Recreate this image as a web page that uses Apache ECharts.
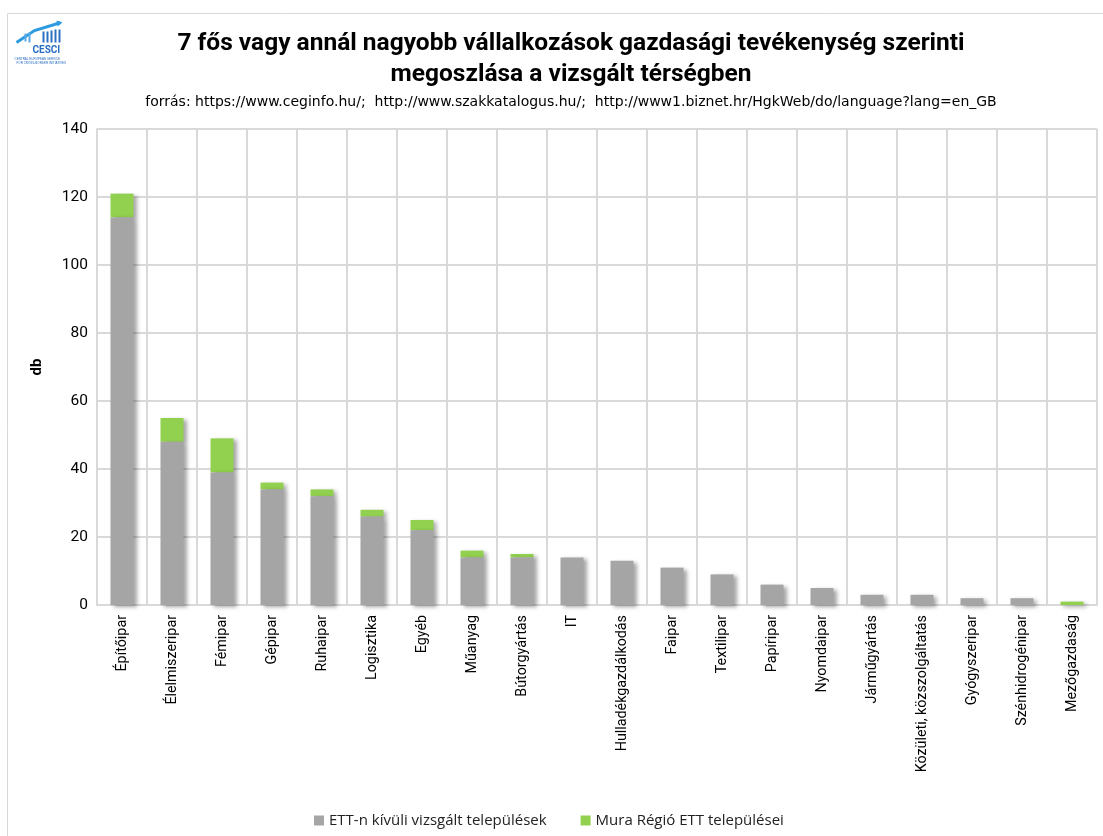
<!DOCTYPE html>
<html><head><meta charset="utf-8">
<script src="https://cdn.jsdelivr.net/npm/echarts@6/dist/echarts.min.js"></script>
<style>html,body{margin:0;padding:0;background:#fff}#c{width:1103px;height:836px}</style>
</head><body><div id="c"></div>
<script>
const categories = ["Építőipar","Élelmiszeripar","Fémipar","Gépipar","Ruhaipar","Logisztika","Egyéb","Műanyag","Bútorgyártás","IT","Hulladékgazdálkodás","Faipar","Textilipar","Papíripar","Nyomdaipar","Járműgyártás","Közületi, közszolgáltatás","Gyógyszeripar","Szénhidrogénipar","Mezőgazdaság"];
const outsideETT = [114,48,39,34,32,26,22,14,14,14,13,11,9,6,5,3,3,2,2,0];
const muraETT = [7,7,10,2,2,2,3,2,1,0,0,0,0,0,0,0,0,0,0,1];
const yTicks = [0,20,40,60,80,100,120,140];

const chart = echarts.init(document.getElementById('c'));
const shadow = {shadowColor:'rgba(0,0,0,0.35)',shadowBlur:4,shadowOffsetX:3,shadowOffsetY:2};
chart.setOption({
  animation:false,
  title:{
    text:'7 fős vagy annál nagyobb vállalkozások gazdasági tevékenység szerinti\nmegoszlása a vizsgált térségben',
    subtext:'forrás: https://www.ceginfo.hu/;  http://www.szakkatalogus.hu/;  http://www1.biznet.hr/HgkWeb/do/language?lang=en_GB',
    left:566, top:23, textAlign:'center', itemGap:5,
    textStyle:{fontFamily:'Roboto',fontWeight:'bold',fontSize:24.5,lineHeight:31,color:'#000'},
    subtextStyle:{fontFamily:'DejaVu Sans',fontSize:14,color:'#000'}
  },
  legend:{
    bottom:3, left:309, itemWidth:10, itemHeight:10, itemGap:34,
    icon:'rect',
    textStyle:{fontFamily:'Open Sans',fontSize:15,color:'#222'},
    data:['ETT-n kívüli vizsgált települések','Mura Régió ETT települései']
  },
  grid:{left:97,right:6,top:129,bottom:231},
  xAxis:{
    type:'category', data:categories,
    axisLine:{lineStyle:{color:'#d9d9d9',width:2}},
    axisTick:{show:false},
    splitLine:{show:true,lineStyle:{color:'#d9d9d9',width:2}},
    axisLabel:{rotate:90,fontFamily:'Roboto',fontSize:14.3,color:'#000',margin:10,interval:0}
  },
  yAxis:{
    type:'value', min:yTicks[0], max:yTicks[yTicks.length-1], interval:20,
    name:'db', nameLocation:'middle', nameGap:52, nameRotate:90,
    nameTextStyle:{fontFamily:'Roboto',fontWeight:'bold',fontSize:15,color:'#000'},
    axisLine:{show:true,lineStyle:{color:'#d9d9d9',width:2}},
    axisTick:{show:false},
    splitLine:{lineStyle:{color:'#d9d9d9',width:2}},
    axisLabel:{fontFamily:'Roboto',fontSize:15.5,color:'#000',margin:9}
  },
  series:[
    {name:'ETT-n kívüli vizsgált települések',type:'bar',stack:'a',data:outsideETT,barWidth:23,z:3,
     itemStyle:Object.assign({color:'#a5a5a5'},shadow)},
    {name:'Mura Régió ETT települései',type:'bar',stack:'a',data:muraETT,barWidth:23,z:2,
     itemStyle:Object.assign({color:'#92d050'},shadow)}
  ],
  graphic:[
    {type:'rect',shape:{x:7.5,y:13.5,width:1100,height:830},style:{fill:'none',stroke:'#d9d9d9',lineWidth:1},silent:true},
    {type:'group',left:14,top:20,children:[
      {type:'polyline',shape:{points:[[2,22],[20,10],[40,4],[46,2]]},style:{stroke:'#2e9be0',lineWidth:3,fill:'none'}},
      {type:'polygon',shape:{points:[[42,0],[48,2],[43,6]]},style:{fill:'#2e9be0'}},
      {type:'rect',shape:{x:10,y:13,width:2,height:8},style:{fill:'#5aa9e6'}},
      {type:'rect',shape:{x:14,y:12,width:2,height:10},style:{fill:'#5aa9e6'}},
      {type:'rect',shape:{x:28,y:11,width:2,height:11},style:{fill:'#2a6fc0'}},
      {type:'rect',shape:{x:32,y:11,width:2,height:11},style:{fill:'#2a6fc0'}},
      {type:'rect',shape:{x:36,y:10,width:2,height:12},style:{fill:'#2a6fc0'}},
      {type:'rect',shape:{x:40,y:9,width:2,height:13},style:{fill:'#2a6fc0'}},
      {type:'rect',shape:{x:44,y:9,width:2,height:13},style:{fill:'#2a6fc0'}},
      {type:'text',style:{x:18,y:25,text:'CESCI',fontSize:10,fontWeight:'bold',fill:'#2a6fc0',fontFamily:'Roboto'}},
      {type:'text',style:{x:0,y:37,text:'CENTRAL EUROPEAN SERVICE',fontSize:3,fill:'#2a6fc0'}},
      {type:'text',style:{x:2,y:41,text:'FOR CROSS-BORDER INITIATIVES',fontSize:3,fill:'#2a6fc0'}}
    ]}
  ]
});
</script></body></html>
